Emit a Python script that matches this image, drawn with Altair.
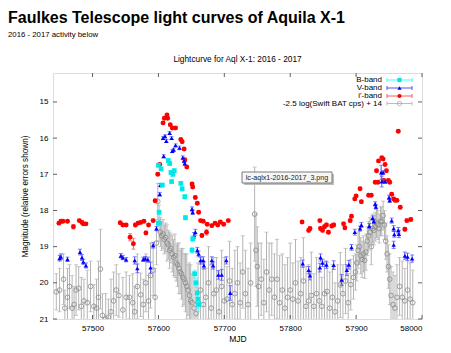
import altair as alt
import pandas as pd

# ---------------- data ----------------
b_mjd = [57600, 57604, 57606, 57601, 57600, 57615, 57617, 57619, 57620, 57622, 57624,
         57634, 57636, 57640, 57641, 57652, 57651, 57655, 57657, 57659, 57660, 57661]
b_mag = [16.75, 16.85, 17.3, 18.05, 18.35, 16.62, 16.7, 16.95, 17.2, 17.0, 16.9,
         17.25, 17.4, 17.62, 18.2, 18.78, 19.1, 19.75, 20.0, 20.28, 20.45, 20.6]
b_err = [0.05, 0.05, 0.05, 0.05, 0.06, 0.05, 0.05, 0.05, 0.05, 0.05, 0.05,
         0.05, 0.06, 0.06, 0.06, 0.08, 0.08, 0.1, 0.12, 0.15, 0.15, 0.2]

v_mjd = [57450, 57452, 57462, 57481, 57484, 57486, 57490, 57543, 57546, 57551, 57564, 57568,
         57577, 57580, 57584, 57588, 57592, 57597, 57602, 57603, 57607, 57608, 57610, 57612,
         57617, 57620, 57621, 57623, 57626, 57632, 57637, 57639, 57640, 57651, 57652, 57654,
         57656, 57659, 57661, 57664, 57668, 57669, 57681, 57683, 57691, 57696, 57703, 57709,
         57819, 57828, 57830, 57845, 57846, 57849, 57855, 57866, 57878, 57886, 57889, 57893,
         57898, 57906, 57908, 57920, 57925, 57927, 57929, 57930, 57938, 57941, 57939, 57944,
         57950, 57951, 57954, 57957, 57958, 57957, 57964, 57965, 57974, 57978, 57985]
v_mag = [19.32, 19.28, 19.35, 19.15, 19.3, 19.42, 19.52, 19.25, 19.3, 19.36, 19.38, 19.6,
         19.35, 19.33, 19.36, 19.58, 18.96, 18.5, 17.55, 17.3, 16.0, 16.5, 15.95, 16.08,
         15.86, 16.0, 16.36, 16.32, 16.2, 16.27, 16.54, 16.63, 16.7, 17.96, 18.05, 18.69,
         18.6, 19.1, 19.2, 19.38, 19.38, 19.52, 19.38, 19.52, 19.78, 19.78, 19.38, 20.28,
         19.47, 19.65, 19.8, 19.58, 19.3, 19.45, 19.5, 19.51, 19.92, 19.65, 19.5, 19.02,
         18.6, 18.5, 18.4, 18.43, 18.21, 18.3, 17.82, 17.9, 16.95, 16.95, 17.2, 17.2,
         17.64, 17.72, 18.28, 18.5, 18.66, 18.95, 18.55, 18.65, 19.25, 19.28, 19.33]
v_err = [0.08, 0.08, 0.06, 0.08, 0.08, 0.07, 0.07, 0.06, 0.06, 0.06, 0.1, 0.12,
         0.06, 0.06, 0.07, 0.15, 0.08, 0.06, 0.05, 0.05, 0.04, 0.04, 0.04, 0.04,
         0.04, 0.04, 0.04, 0.04, 0.04, 0.05, 0.05, 0.05, 0.05, 0.06, 0.06, 0.08,
         0.08, 0.08, 0.08, 0.1, 0.1, 0.1, 0.1, 0.1, 0.12, 0.15, 0.1, 0.2,
         0.1, 0.1, 0.12, 0.12, 0.1, 0.1, 0.1, 0.12, 0.15, 0.15, 0.12, 0.08,
         0.08, 0.07, 0.07, 0.07, 0.06, 0.06, 0.06, 0.06, 0.2, 0.05, 0.15, 0.05,
         0.06, 0.06, 0.07, 0.08, 0.08, 0.1, 0.08, 0.1, 0.1, 0.1, 0.1]

i_mjd = [57449, 57452, 57455, 57462, 57471, 57480, 57484, 57486, 57490, 57542, 57546, 57551,
         57557, 57562, 57565, 57569, 57573, 57578, 57581, 57585, 57592, 57595, 57599, 57602,
         57607, 57609, 57613, 57614, 57618, 57621, 57626, 57634, 57636, 57639, 57640, 57643,
         57651, 57652, 57656, 57659, 57661, 57664, 57666, 57668, 57673, 57674, 57681, 57686,
         57690, 57694, 57699, 57706, 57818, 57828, 57830, 57845, 57846, 57849, 57852, 57855,
         57858, 57863, 57866, 57881, 57883, 57891, 57893, 57898, 57900, 57906, 57908, 57919,
         57923, 57929, 57931, 57933, 57934, 57939, 57941, 57944, 57946, 57942, 57949, 57951,
         57954, 57957, 57959, 57962, 57964, 57967, 57974, 57977, 57983]
i_mag = [18.35, 18.3, 18.3, 18.3, 18.45, 18.28, 18.33, 18.37, 18.37, 18.34, 18.4, 18.4,
         18.74, 18.92, 18.4, 18.35, 18.33, 18.3, 18.62, 18.4, 18.28, 17.73, 17.0, 16.73,
         15.58, 15.45, 15.36, 15.45, 15.63, 15.72, 15.72, 16.04, 16.1, 16.3, 16.6, 16.8,
         17.27, 17.35, 17.64, 17.8, 18.05, 18.28, 18.69, 18.3, 18.6, 18.38, 18.42, 18.35,
         18.4, 18.32, 18.38, 18.28, 18.32, 18.55, 18.5, 18.28, 18.5, 18.55, 18.45, 18.4,
         18.6, 18.43, 18.4, 18.37, 18.48, 18.28, 18.16, 17.68, 17.6, 17.4, 17.76, 17.58,
         17.58, 17.22, 16.9, 17.22, 16.63, 16.54, 16.58, 16.73, 16.9, 17.17, 17.17, 17.22,
         17.55, 17.68, 17.72, 17.72, 15.81, 17.91, 18.52, 18.28, 18.25]
i_err = [0.04, 0.04, 0.04, 0.04, 0.06, 0.04, 0.04, 0.04, 0.04, 0.04, 0.04, 0.04,
         0.1, 0.15, 0.05, 0.04, 0.04, 0.04, 0.05, 0.04, 0.04, 0.04, 0.04, 0.04,
         0.03, 0.03, 0.03, 0.03, 0.03, 0.03, 0.03, 0.03, 0.03, 0.03, 0.04, 0.04,
         0.04, 0.04, 0.04, 0.04, 0.04, 0.04, 0.05, 0.04, 0.08, 0.04, 0.04, 0.04,
         0.04, 0.04, 0.04, 0.04, 0.04, 0.05, 0.05, 0.04, 0.05, 0.05, 0.05, 0.05,
         0.05, 0.05, 0.05, 0.05, 0.05, 0.05, 0.04, 0.04, 0.04, 0.04, 0.04, 0.04,
         0.04, 0.04, 0.04, 0.04, 0.03, 0.03, 0.03, 0.03, 0.04, 0.04, 0.04, 0.04,
         0.04, 0.04, 0.04, 0.04, 0.04, 0.05, 0.05, 0.05, 0.05]

bat_mjd = [57445, 57450, 57456, 57458, 57462, 57465, 57469, 57472, 57475, 57479, 57483, 57487,
           57492, 57497, 57502, 57506, 57509, 57512, 57515, 57520, 57524, 57528, 57532, 57536,
           57540, 57546, 57551, 57556, 57561, 57564, 57568, 57573, 57577, 57581, 57585, 57588,
           57592, 57595, 57597, 57599, 57601, 57603, 57605, 57607, 57609, 57611, 57613, 57615,
           57617, 57619, 57621, 57623, 57625, 57627, 57629, 57631, 57633, 57635, 57637, 57639,
           57641, 57643, 57645, 57647, 57649, 57651, 57654, 57657, 57660, 57664, 57668, 57672,
           57676, 57680, 57684, 57688, 57692, 57696, 57700, 57704, 57708, 57712, 57716, 57720,
           57724, 57728, 57732, 57736, 57740, 57746, 57748, 57750, 57752, 57756, 57760, 57764,
           57768, 57772, 57776, 57780, 57784, 57788, 57792, 57796, 57800, 57804, 57808, 57812,
           57816, 57820, 57824, 57828, 57832, 57836, 57840, 57844, 57848, 57852, 57856, 57860,
           57864, 57868, 57872, 57876, 57880, 57884, 57888, 57892, 57896, 57899, 57901, 57903,
           57905, 57907, 57909, 57911, 57913, 57915, 57917, 57919, 57921, 57923, 57925, 57927,
           57929, 57931, 57933, 57935, 57937, 57939, 57941, 57943, 57945, 57947, 57949, 57951,
           57953, 57956, 57959, 57962, 57966, 57970, 57974, 57978, 57982, 57986]
bat_mag = [20.25, 20.2, 19.9, 20.7, 20.4, 20.1, 20.7, 20.6, 20.2, 20.15, 20.65, 20.5,
           20.55, 20.1, 20.65, 20.7, 20.4, 19.62, 20.9, 21.0, 20.95, 20.8, 20.5, 20.2,
           20.35, 20.75, 20.4, 20.4, 20.55, 20.8, 20.1, 20.33, 20.6, 20.0, 20.5, 19.8,
           19.65, 20.4, 18.9, 17.75, 18.35, 18.6, 18.7, 18.65, 18.8, 18.75, 18.9, 18.95,
           19.1, 19.05, 19.2, 19.3, 19.25, 19.45, 19.5, 19.6, 19.7, 19.75, 19.85, 19.9,
           20.0, 20.1, 20.2, 20.35, 20.5, 20.55, 20.7, 20.85, 20.55, 20.2, 20.6, 20.4,
           20.0, 20.7, 20.3, 20.2, 20.8, 20.1, 20.5, 20.45, 19.95, 20.6, 20.3, 20.0,
           20.55, 19.7, 20.3, 20.6, 20.0, 18.1, 19.1, 19.55, 20.1, 19.9, 20.55, 19.7,
           20.2, 19.9, 20.4, 19.9, 20.55, 20.2, 20.7, 20.4, 20.2, 20.45, 20.0, 20.5,
           20.3, 19.95, 20.65, 20.5, 20.35, 20.65, 20.3, 20.5, 20.65, 20.3, 20.24, 20.7,
           20.4, 20.8, 20.5, 20.06, 20.3, 19.95, 20.55, 20.05, 19.85, 19.7, 19.45, 19.1,
           19.0, 19.25, 19.35, 19.2, 19.38, 19.15, 18.85, 18.7, 18.6, 19.0, 18.5, 18.55,
           18.45, 18.35, 18.4, 18.5, 18.3, 18.3, 18.14, 18.4, 18.85, 19.2, 19.55, 19.9,
           20.35, 20.6, 20.7, 20.4, 20.1, 20.4, 20.5, 20.2, 20.45, 20.55]
bat_err = [0.5, 0.6, 0.7, 0.5, 0.8, 0.6, 0.9, 0.5, 0.7, 0.6, 0.8, 0.6,
           0.9, 0.7, 0.6, 0.8, 1.0, 1.1, 0.6, 0.7, 0.5, 0.9, 0.8, 0.7,
           0.6, 0.9, 0.7, 0.6, 0.8, 0.7, 0.9, 0.6, 0.7, 0.8, 0.7, 0.9,
           0.7, 0.8, 0.6, 0.5, 0.5, 0.4, 0.4, 0.4, 0.4, 0.4, 0.5, 0.4,
           0.5, 0.4, 0.5, 0.5, 0.6, 0.5, 0.6, 0.7, 0.6, 0.7, 0.8, 0.7,
           0.8, 0.9, 0.7, 0.9, 1.0, 0.8, 1.0, 0.9, 1.1, 0.9, 1.0, 0.8,
           1.0, 1.2, 1.0, 0.9, 1.1, 1.0, 1.2, 0.9, 1.1, 1.0, 1.2, 1.0,
           1.1, 1.0, 1.2, 1.0, 1.1, 1.3, 1.0, 1.1, 1.2, 1.0, 1.2, 1.1,
           1.3, 1.0, 1.2, 1.1, 1.3, 1.0, 1.2, 1.1, 1.3, 1.0, 1.2, 1.1,
           1.0, 1.2, 1.1, 1.0, 1.2, 0.9, 1.0, 0.9, 0.8, 0.9, 0.8, 1.0,
           0.9, 0.8, 1.0, 0.9, 0.8, 0.9, 0.8, 0.7, 0.6, 0.5, 0.5, 0.5,
           0.5, 0.5, 0.5, 0.5, 0.5, 0.5, 0.4, 0.4, 0.4, 0.5, 0.4, 0.4,
           0.4, 0.4, 0.4, 0.4, 0.4, 0.4, 0.4, 0.4, 0.5, 0.5, 0.6, 0.7,
           0.8, 0.9, 0.9, 0.9, 0.8, 1.0, 0.9, 0.8, 1.0, 0.9]

x_ticks = [57500, 57600, 57700, 57800, 57900, 58000]
y_ticks = [15, 16, 17, 18, 19, 20, 21]

main_title = "Faulkes Telescope light curves of Aquila X-1"
sub_title = "2016 - 2017 activity below"
plot_title = "Lightcurve for Aql X-1: 2016 - 2017"
tooltip_text = "lc-aqlx1-2016-2017_3.png"
legend_labels = ["B-band", "V-band", "i'-band", "-2.5 log(Swift BAT cps) + 14"]

# ---------------- layout ----------------
W, H = 369, 246
FONT = "Liberation Sans"


def frame(mjd, mag, err):
    df = pd.DataFrame({"mjd": mjd, "mag": mag, "err": err})
    df["lo"] = df["mag"] - df["err"]
    df["hi"] = df["mag"] + df["err"]
    return df


xscale = alt.Scale(domain=[57440, 58000], nice=False, zero=False)
yscale = alt.Scale(domain=[14.2, 21], nice=False, zero=False, reverse=True)
xaxis = alt.Axis(values=x_ticks, title="MJD", grid=False, ticks=False, tickSize=0, domain=False,
                 labelFont=FONT, labelFontSize=8, labelPadding=5, labelColor="#000",
                 titleFont=FONT, titleFontSize=8.5, titleFontWeight="normal", titlePadding=2,
                 titleColor="#000", format="d")
yaxis = alt.Axis(values=y_ticks, title="Magnitude (relative errors shown)", grid=False, ticks=False,
                 tickSize=0, domain=False, labelFont=FONT, labelFontSize=8, labelPadding=5,
                 labelColor="#000", titleFont=FONT, titleFontSize=8.2, titleFontWeight="normal",
                 titlePadding=10, titleColor="#000")


def X(field="mjd"):
    return alt.X(f"{field}:Q", scale=xscale, axis=xaxis)


def Y(field="mag"):
    return alt.Y(f"{field}:Q", scale=yscale, axis=yaxis)


def series(df, bar_color, pt_color, shape, size, filled, cap=4, stroke_w=1.0):
    base = alt.Chart(df)
    bars = base.mark_rule(color=bar_color, strokeWidth=1, clip=True).encode(
        x=X(), y=Y("lo"), y2="hi:Q")
    cap_lo = base.mark_tick(color=bar_color, orient="horizontal", size=cap, thickness=1,
                            clip=True).encode(x=X(), y=Y("lo"))
    cap_hi = base.mark_tick(color=bar_color, orient="horizontal", size=cap, thickness=1,
                            clip=True).encode(x=X(), y=Y("hi"))
    if filled:
        pts = base.mark_point(shape=shape, size=size, filled=True, color=pt_color,
                              opacity=1, clip=True).encode(x=X(), y=Y())
    else:
        pts = base.mark_point(shape=shape, size=size, filled=False, color=pt_color,
                              strokeWidth=stroke_w, opacity=1, clip=True).encode(x=X(), y=Y())
    return [bars, cap_lo, cap_hi, pts]


bat = series(frame(bat_mjd, bat_mag, bat_err), "#b4b4b4", "#8a8a8a", "circle", 22, False,
             stroke_w=0.8)
iband = series(frame(i_mjd, i_mag, i_err), "#ff5a5a", "#ff0000", "circle", 24, True)
vband = series(frame(v_mjd, v_mag, v_err), "#5050ff", "#0000ff", "triangle-up", 20, True)
bband = series(frame(b_mjd, b_mag, b_err), "#40ffff", "#00e8e8", "square", 22, True)

# inward gnuplot-style ticks on all four sides
xt = pd.DataFrame({"mjd": x_ticks})
yt = pd.DataFrame({"mag": y_ticks})
TC = "#606060"
tick_layers = [
    alt.Chart(xt).mark_rule(color=TC).encode(x=X(), y=alt.value(H), y2=alt.value(H - 4)),
    alt.Chart(xt).mark_rule(color=TC).encode(x=X(), y=alt.value(0), y2=alt.value(4)),
    alt.Chart(yt).mark_rule(color=TC).encode(y=Y(), x=alt.value(0), x2=alt.value(4)),
    alt.Chart(yt).mark_rule(color=TC).encode(y=Y(), x=alt.value(W - 4), x2=alt.value(W)),
]

one = pd.DataFrame({"k": [0]})


def label(text, x, y, size, align="left", weight="normal", font=FONT, color="#000",
          baseline="middle"):
    return alt.Chart(one).mark_text(text=text, align=align, baseline=baseline, fontSize=size,
                                    fontWeight=weight, font=font, color=color).encode(
        x=alt.value(x), y=alt.value(y))


titles = [
    label(main_title, -45, -50.5, 16, weight="bold", baseline="alphabetic"),
    label(sub_title, -45, -38, 7.8),
    label(plot_title, W / 2, -13, 8.3, align="center"),
]

# manual gnuplot-like key
key_rows = [7, 15, 23, 30.5]
key_bar = ["#40ffff", "#5050ff", "#ff5a5a", "#bdbdbd"]
key_pt = ["#00e8e8", "#0000ff", "#ff0000", "#8a8a8a"]
key_shape = ["square", "triangle-up", "circle", "circle"]
key_layers = []
for lab, ry, bc, pc, shp in zip(legend_labels, key_rows, key_bar, key_pt, key_shape):
    key_layers.append(label(lab, 329, ry, 8, align="right"))
    key_layers.append(alt.Chart(one).mark_rule(color=bc).encode(
        x=alt.value(334), x2=alt.value(359), y=alt.value(ry)))
    key_layers.append(alt.Chart(one).mark_rule(color=bc).encode(
        x=alt.value(334), y=alt.value(ry - 2), y2=alt.value(ry + 2)))
    key_layers.append(alt.Chart(one).mark_rule(color=bc).encode(
        x=alt.value(359), y=alt.value(ry - 2), y2=alt.value(ry + 2)))
    if shp == "circle" and pc == "#8a8a8a":
        key_layers.append(alt.Chart(one).mark_point(shape=shp, size=20, filled=False, color=pc,
                                                    strokeWidth=0.8).encode(
            x=alt.value(346.5), y=alt.value(ry)))
    else:
        key_layers.append(alt.Chart(one).mark_point(shape=shp, size=18, filled=True, color=pc,
                                                    opacity=1).encode(
            x=alt.value(346.5), y=alt.value(ry)))

# the browser tooltip visible in the screenshot
tip = [
    alt.Chart(one).mark_rect(fill="#bcbcbc").encode(
        x=alt.value(191), x2=alt.value(281), y=alt.value(101), y2=alt.value(112)),
    alt.Chart(one).mark_rect(fill="#f6f6f6", stroke="#7a7a7a", strokeWidth=1).encode(
        x=alt.value(189), x2=alt.value(279), y=alt.value(99), y2=alt.value(110)),
    label(tooltip_text, 234, 104.5, 7.1, align="center", color="#222"),
]

chart = alt.layer(*bat, *iband, *vband, *bband, *tick_layers, *key_layers, *tip,
                  *titles).properties(
    width=W, height=H,
    padding={"left": 45, "top": 65, "right": 21, "bottom": 25},
    autosize=alt.AutoSizeParams(type="none"),
).configure_view(stroke="#8c8c8c", strokeWidth=1).configure(background="#ffffff")

chart.save("out.html", embed_options={"renderer": "svg", "actions": False})
